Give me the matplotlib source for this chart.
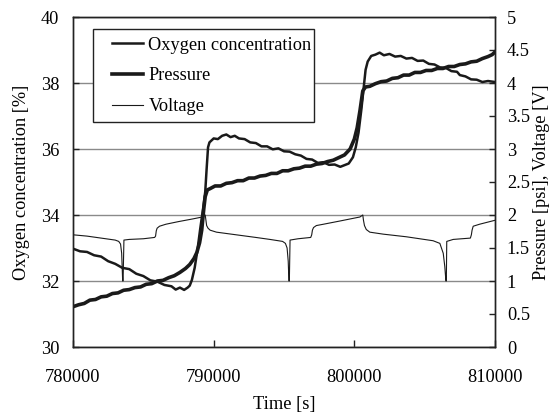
import matplotlib
matplotlib.use("Agg")
import matplotlib.pyplot as plt
from matplotlib.patches import Rectangle

plt.rcParams['font.family'] = ['Liberation Serif', 'DejaVu Serif']

# Oxygen concentration [%] vs time [s]
o2_time = [780000, 780500, 781000, 781500, 782000, 782500, 783000, 783500, 784000, 784500,
           785000, 785500, 786000, 786500, 787000, 787300, 787600, 787900, 788150, 788300,
           788450, 788650, 788850, 789050, 789250, 789400, 789500, 789600, 789700, 790000,
           790300, 790600, 790900, 791200, 791500, 791800, 792200, 792600, 793000, 793400,
           793800, 794200, 794600, 795000, 795400, 795800, 796200, 796600, 797000, 797400,
           797800, 798200, 798600, 799000, 799300, 799600, 799900, 800100, 800300, 800500,
           800650, 800800, 800950, 801200, 801500, 801800, 802100, 802500, 802900, 803300,
           803700, 804100, 804500, 804900, 805300, 805700, 806100, 806500, 806900, 807300,
           807500, 807900, 808300, 808700, 809100, 809500, 810000]
o2_value = [32.98, 32.90, 32.88, 32.78, 32.74, 32.60, 32.52, 32.40, 32.36, 32.22,
            32.15, 32.02, 31.98, 31.88, 31.84, 31.74, 31.80, 31.73, 31.80, 31.86,
            32.03, 32.40, 32.95, 33.60, 34.20, 34.70, 35.40, 36.05, 36.20, 36.32,
            36.30, 36.40, 36.44, 36.36, 36.40, 36.32, 36.30, 36.20, 36.18, 36.08,
            36.08, 35.99, 36.02, 35.93, 35.92, 35.84, 35.80, 35.70, 35.68, 35.58,
            35.60, 35.52, 35.53, 35.46, 35.51, 35.56, 35.75, 36.05, 36.50, 37.20,
            37.80, 38.40, 38.65, 38.82, 38.86, 38.92, 38.84, 38.88, 38.80, 38.82,
            38.74, 38.76, 38.67, 38.68, 38.58, 38.56, 38.47, 38.46, 38.36, 38.34,
            38.24, 38.20, 38.11, 38.10, 38.03, 38.06, 38.03]

# Pressure [psi] vs time [s]
p_time = [780000, 780400, 780800, 781200, 781600, 782000, 782400, 782800, 783200, 783600,
          784000, 784400, 784800, 785200, 785600, 786000, 786400, 786800, 787200, 787600,
          788000, 788300, 788600, 788800, 789000, 789150, 789300, 789400, 789550, 789750,
          790100, 790500, 790900, 791300, 791700, 792100, 792500, 792900, 793300, 793700,
          794100, 794500, 794900, 795300, 795700, 796100, 796500, 796900, 797300, 797700,
          798100, 798500, 798900, 799300, 799700, 800000, 800200, 800400, 800600, 800800,
          801100, 801500, 801900, 802300, 802700, 803100, 803500, 803900, 804300, 804700,
          805100, 805500, 805900, 806300, 806700, 807100, 807500, 807900, 808300, 808700,
          809100, 809500, 809800, 810000]
p_value = [0.61, 0.64, 0.66, 0.71, 0.72, 0.76, 0.77, 0.81, 0.82, 0.86,
           0.87, 0.90, 0.91, 0.95, 0.96, 1.00, 1.01, 1.05, 1.08, 1.13,
           1.19, 1.25, 1.34, 1.43, 1.58, 1.77, 2.10, 2.28, 2.38, 2.40,
           2.44, 2.44, 2.48, 2.49, 2.52, 2.52, 2.56, 2.56, 2.59, 2.60,
           2.63, 2.63, 2.67, 2.67, 2.70, 2.71, 2.74, 2.74, 2.77, 2.78,
           2.81, 2.83, 2.87, 2.91, 3.00, 3.15, 3.32, 3.58, 3.88, 3.94,
           3.95, 3.99, 4.02, 4.03, 4.07, 4.08, 4.12, 4.12, 4.16, 4.16,
           4.19, 4.19, 4.22, 4.22, 4.25, 4.25, 4.28, 4.29, 4.32, 4.33,
           4.37, 4.40, 4.43, 4.47]

# Voltage [V] vs time [s]
v_time = [780000, 781000, 782000, 783000, 783250, 783380, 783460, 783530, 783560, 783620,
          784000, 785000, 785800, 785870, 785920, 785980, 786150, 786600, 787500, 788500,
          789200, 789400, 789450, 789500, 789600, 789750, 790200, 791600, 793000, 794000,
          794900, 795100, 795220, 795300, 795350, 795380, 795430, 796000, 796900, 796970,
          797020, 797100, 797300, 797800, 799000, 800400, 800600, 800650, 800720, 800850,
          801100, 802050, 803700, 805600, 806080, 806320, 806430, 806510, 806540, 806570,
          807030, 808250, 808320, 808370, 808450, 808900, 810000]
v_value = [1.70, 1.68, 1.65, 1.62, 1.60, 1.56, 1.42, 1.00, 1.00, 1.62,
           1.63, 1.64, 1.66, 1.68, 1.76, 1.80, 1.83, 1.86, 1.90, 1.94,
           1.97, 2.00, 1.92, 1.84, 1.80, 1.77, 1.74, 1.70, 1.66, 1.63,
           1.60, 1.57, 1.50, 1.30, 1.00, 1.00, 1.62, 1.64, 1.66, 1.70,
           1.77, 1.81, 1.84, 1.86, 1.91, 1.97, 2.00, 1.92, 1.84, 1.78,
           1.74, 1.71, 1.67, 1.61, 1.57, 1.42, 1.22, 1.00, 1.00, 1.60,
           1.63, 1.65, 1.70, 1.77, 1.83, 1.86, 1.92]

x_ticks = [780000, 790000, 800000, 810000]
left_ticks = [30, 32, 34, 36, 38, 40]
right_ticks = [0, 0.5, 1, 1.5, 2, 2.5, 3, 3.5, 4, 4.5, 5]
right_ticklabels = ['0', '0.5', '1', '1.5', '2', '2.5', '3', '3.5', '4', '4.5', '5']

FS = 13.2
INK = '#1a1a1a'
W, H = 552, 418
fig = plt.figure(figsize=(W / 100, H / 100), dpi=100)
ax_l, ax_r, ax_b, ax_t = 73, 495, 347, 17
ax = fig.add_axes([ax_l / W, 1 - ax_b / H, (ax_r - ax_l) / W, (ax_b - ax_t) / H])
ax2 = ax.twinx()

ax.set_xlim(780000, 810000)
ax.set_ylim(30, 40)
ax2.set_ylim(0, 5)

ax.set_yticks(left_ticks)
ax.set_yticklabels([str(t) for t in left_ticks])
ax.grid(axis='y', color='#8a8a8a', linewidth=1.0)
ax.set_axisbelow(True)

# oxygen is plotted against the left scale, converted onto the twin axis so all
# three curves sit above the grid lines of the left axis
o2_on_right = [(v - 30) / 2.0 for v in o2_value]
h_o2, = ax2.plot(o2_time, o2_on_right, color=INK, lw=1.8, label='Oxygen concentration')
h_p, = ax2.plot(p_time, p_value, color=INK, lw=2.6, label='Pressure')
h_v, = ax2.plot(v_time, v_value, color=INK, lw=0.8, label='Voltage')

ax.set_xticks(x_ticks)
ax.set_xticklabels([str(t) for t in x_ticks])
ax2.set_yticks(right_ticks)
ax2.set_yticklabels(right_ticklabels)

for a in (ax, ax2):
    for s in a.spines.values():
        s.set_color('#222222')
        s.set_linewidth(1.0)

ax.tick_params(axis='x', direction='in', length=5, width=1, pad=16, labelsize=FS, color='#222222')
ax.tick_params(axis='y', direction='in', length=4, width=1, pad=10, labelsize=FS, color='#222222')
ax2.tick_params(axis='y', direction='in', length=4, width=1, pad=8.5, labelsize=FS, color='#222222')

fig.text(22 / W, 1 - 182 / H, 'Oxygen concentration [%]', rotation=90, ha='center', va='center', fontsize=FS)
fig.text(541 / W, 1 - 182 / H, 'Pressure [psi], Voltage [V]', rotation=90, ha='center', va='center', fontsize=FS)
fig.text(284 / W, 1 - 405 / H, 'Time [s]', ha='center', va='center', fontsize=FS)

# legend box
def to_ax(px, py):
    return (px - ax_l) / (ax_r - ax_l), (ax_b - py) / (ax_b - ax_t)

bx0, by0 = to_ax(93, 122)
bx1, by1 = to_ax(314, 29)
ax2.add_patch(Rectangle((bx0, by0), bx1 - bx0, by1 - by0, transform=ax2.transAxes,
                        facecolor='white', edgecolor='#222222', linewidth=1.0, zorder=5))

leg = ax2.legend(handles=[h_o2, h_p, h_v], loc='upper left',
                 bbox_to_anchor=to_ax(111.7, 36.5),
                 fontsize=FS, frameon=False, handlelength=1.73, handletextpad=0.27,
                 labelspacing=0.75, borderpad=0, borderaxespad=0)
leg.set_zorder(6)

fig.savefig('out.png', dpi=100)
